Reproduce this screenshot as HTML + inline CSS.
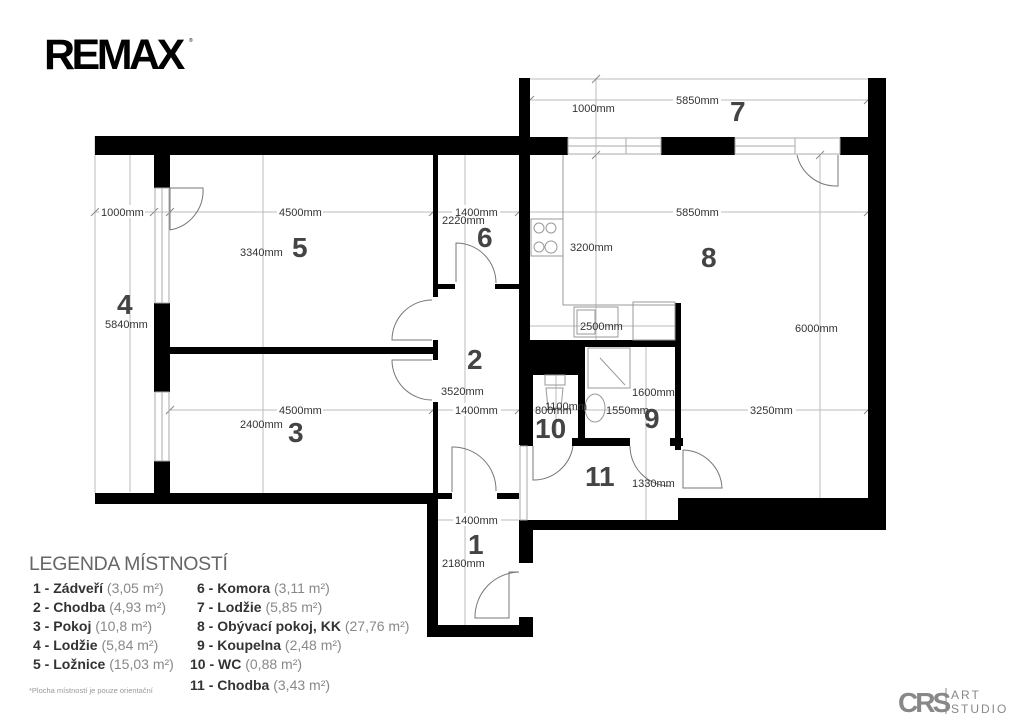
<!DOCTYPE html>
<html><head><meta charset="utf-8"><style>
html,body{margin:0;padding:0;background:#fff;}
svg{display:block;font-family:"Liberation Sans",sans-serif;}
.d{font-size:11px;fill:#333;}
.n{font-size:28px;font-weight:bold;fill:#444;}
.l{font-size:14px;font-weight:bold;fill:#333;}
.l tspan{font-weight:normal;fill:#888;}
</style></head><body>
<svg width="1024" height="723" viewBox="0 0 1024 723">
<!-- logo -->
<text x="44" y="69" font-size="43" font-weight="bold" letter-spacing="-3.5" fill="#000">REMAX</text>
<text x="189" y="42" font-size="5" fill="#000">®</text>

<!-- dimension lines -->
<g stroke="#bbb" stroke-width="1" fill="none">
<line x1="95" y1="212" x2="868" y2="212"/>
<line x1="130" y1="155" x2="130" y2="492"/>
<line x1="263" y1="155" x2="263" y2="493"/>
<line x1="465" y1="155" x2="465" y2="625"/>
<line x1="170" y1="410" x2="868" y2="410"/>
<line x1="438" y1="520" x2="519" y2="520"/>
<line x1="596" y1="78" x2="596" y2="340"/>
<line x1="530" y1="100" x2="868" y2="100"/>
<line x1="530" y1="326" x2="675" y2="326"/>
<line x1="820" y1="155" x2="820" y2="502"/>
<line x1="646" y1="345" x2="646" y2="520"/>
<line x1="556" y1="375" x2="556" y2="438"/>
<line x1="95" y1="136" x2="95" y2="493"/>
<line x1="519" y1="79" x2="886" y2="79"/>
</g>
<g stroke="#888" stroke-width="1">
<line x1="91" y1="216" x2="99" y2="208"/><line x1="150" y1="216" x2="158" y2="208"/><line x1="166" y1="216" x2="174" y2="208"/>
<line x1="429" y1="216" x2="437" y2="208"/><line x1="515" y1="216" x2="523" y2="208"/><line x1="864" y1="216" x2="872" y2="208"/>
<line x1="166" y1="414" x2="174" y2="406"/><line x1="429" y1="414" x2="437" y2="406"/><line x1="515" y1="414" x2="523" y2="406"/><line x1="864" y1="414" x2="872" y2="406"/>
<line x1="592" y1="83" x2="600" y2="75"/><line x1="592" y1="159" x2="600" y2="151"/><line x1="526" y1="104" x2="534" y2="96"/><line x1="864" y1="104" x2="872" y2="96"/>
<line x1="816" y1="159" x2="824" y2="151"/><line x1="816" y1="498" x2="824" y2="506"/>
</g>

<!-- walls -->
<g fill="#000">
<rect x="95" y="136" width="435" height="19"/>
<rect x="154" y="155" width="16" height="33"/>
<rect x="154" y="303" width="16" height="89"/>
<rect x="154" y="461" width="16" height="32"/>
<rect x="95" y="493" width="343" height="11"/>
<rect x="170" y="347" width="263" height="7"/>
<rect x="433" y="155" width="5" height="142"/>
<rect x="433" y="340" width="5" height="20"/>
<rect x="433" y="402" width="5" height="102"/>
<rect x="438" y="284" width="17" height="5"/>
<rect x="495" y="284" width="24" height="5"/>
<rect x="427" y="493" width="11" height="144"/>
<rect x="438" y="493" width="14" height="6"/>
<rect x="497" y="493" width="22" height="6"/>
<rect x="427" y="625" width="106" height="12"/>
<rect x="519" y="520" width="14" height="43"/>
<rect x="519" y="617" width="14" height="20"/>
<rect x="519" y="78" width="11" height="367"/>
<rect x="868" y="78" width="18" height="452"/>
<rect x="519" y="137" width="49" height="18"/>
<rect x="661" y="137" width="74" height="18"/>
<rect x="840" y="137" width="46" height="18"/>
<rect x="530" y="340" width="150" height="7"/>
<rect x="520" y="345" width="65" height="30"/>
<rect x="520" y="375" width="13" height="70"/>
<rect x="578" y="375" width="7" height="70"/>
<rect x="675" y="303" width="6" height="147"/>
<rect x="520" y="438" width="13" height="8"/>
<rect x="572" y="438" width="58" height="8"/>
<rect x="670" y="438" width="13" height="8"/>
<rect x="678" y="498" width="208" height="32"/>
<rect x="519" y="520" width="367" height="10"/>
</g>
<!-- windows -->
<g stroke="#aaa" stroke-width="1" fill="none">
<rect x="155" y="188" width="14" height="115"/><line x1="162" y1="188" x2="162" y2="303"/>
<rect x="155" y="392" width="14" height="69"/><line x1="162" y1="392" x2="162" y2="461"/>
<rect x="568" y="138" width="93" height="16"/><line x1="568" y1="146" x2="661" y2="146"/><line x1="626" y1="138" x2="626" y2="154"/>
<rect x="735" y="138" width="105" height="16"/><line x1="735" y1="146" x2="795" y2="146"/><line x1="795" y1="138" x2="795" y2="154"/>
<rect x="520" y="446" width="7" height="74"/>
</g>
<!-- doors -->
<g stroke="#777" stroke-width="1" fill="none">
<path d="M170 230 V188 H203 A40 40 0 0 1 170 230"/>
<path d="M432 340 H392 A40 40 0 0 1 432 300"/>
<path d="M432 360 H392 A40 40 0 0 0 432 400"/>
<path d="M456 282 V243 A40 40 0 0 1 496 283"/>
<path d="M452 492 V447 A43 43 0 0 1 496 491"/>
<path d="M519 572 H509 V618 H475 A45 45 0 0 1 519 572"/>
<path d="M838 155 V186 H836 A40 40 0 0 1 797 155"/>
<path d="M533 446 V480 A40 40 0 0 0 573 446"/>
<path d="M630 446 A40 40 0 0 0 670 486"/>
<path d="M683 450 V488 H722 A40 40 0 0 0 683 450"/>
</g>
<!-- kitchen / sanitary -->
<g stroke="#999" stroke-width="1" fill="none">
<path d="M563 155 V305 H675"/>
<rect x="531" y="219" width="32" height="37"/>
<circle cx="539" cy="228" r="5"/><circle cx="551" cy="228" r="5"/><circle cx="539" cy="247" r="5"/><circle cx="551" cy="247" r="6"/>
<rect x="574" y="307" width="44" height="30"/><rect x="577" y="310" width="18" height="24"/>
<rect x="633" y="302" width="42" height="38"/>
<rect x="588" y="348" width="42" height="40"/>
<line x1="600" y1="358" x2="625" y2="385"/>
<rect x="545" y="375" width="20" height="10"/>
<path d="M546 388 H563 L561 408 H548 Z"/>
<ellipse cx="595" cy="408" rx="10" ry="14"/>
</g>

<!-- dim labels -->
<g class="d">
<rect x="99" y="205" width="46" height="13" fill="#fff"/><text x="101" y="216">1000mm</text>
<rect x="277" y="205" width="46" height="13" fill="#fff"/><text x="279" y="216">4500mm</text>
<rect x="452" y="205" width="48" height="13" fill="#fff"/><text x="455" y="216">1400mm</text>
<text x="442" y="224">2220mm</text>
<rect x="673" y="205" width="48" height="13" fill="#fff"/><text x="676" y="216">5850mm</text>
<rect x="673" y="93" width="48" height="13" fill="#fff"/><text x="676" y="104">5850mm</text>
<text x="572" y="112">1000mm</text>
<text x="570" y="251">3200mm</text>
<text x="240" y="256">3340mm</text>
<text x="105" y="328">5840mm</text>
<rect x="277" y="403" width="46" height="13" fill="#fff"/><text x="279" y="414">4500mm</text>
<text x="240" y="428">2400mm</text>
<text x="441" y="395">3520mm</text>
<rect x="453" y="403" width="48" height="13" fill="#fff"/><text x="455" y="414">1400mm</text>
<rect x="453" y="513" width="48" height="13" fill="#fff"/><text x="455" y="524">1400mm</text>
<text x="442" y="567">2180mm</text>
<text x="535" y="414">800mm</text><text x="545" y="410">1100mm</text>
<text x="606" y="414">1550mm</text>
<text x="632" y="396">1600mm</text>
<text x="632" y="487">1330mm</text>
<rect x="748" y="403" width="48" height="13" fill="#fff"/><text x="750" y="414">3250mm</text>
<text x="580" y="330">2500mm</text>
<text x="795" y="332">6000mm</text>
</g>

<!-- room numbers -->
<g class="n">
<text x="292" y="257">5</text>
<text x="477" y="247">6</text>
<text x="730" y="121">7</text>
<text x="701" y="267">8</text>
<text x="117" y="314">4</text>
<text x="288" y="442">3</text>
<text x="467" y="369">2</text>
<text x="468" y="554">1</text>
<text x="644" y="428">9</text>
<text x="535" y="438">10</text>
<text x="585" y="486">11</text>
</g>

<!-- legend -->
<text x="29" y="570" font-size="19.5" fill="#666" letter-spacing="-0.3">LEGENDA MÍSTNOSTÍ</text>
<g class="l">
<text x="33" y="593">1 - Zádveří <tspan>(3,05 m²)</tspan></text>
<text x="33" y="612">2 - Chodba <tspan>(4,93 m²)</tspan></text>
<text x="33" y="631">3 - Pokoj <tspan>(10,8 m²)</tspan></text>
<text x="33" y="650">4 - Lodžie <tspan>(5,84 m²)</tspan></text>
<text x="33" y="669">5 - Ložnice <tspan>(15,03 m²)</tspan></text>
<text x="197" y="593">6 - Komora <tspan>(3,11 m²)</tspan></text>
<text x="197" y="612">7 - Lodžie <tspan>(5,85 m²)</tspan></text>
<text x="197" y="631">8 - Obývací pokoj, KK <tspan>(27,76 m²)</tspan></text>
<text x="197" y="650">9 - Koupelna <tspan>(2,48 m²)</tspan></text>
<text x="190" y="669">10 - WC <tspan>(0,88 m²)</tspan></text>
<text x="190" y="690">11 - Chodba <tspan>(3,43 m²)</tspan></text>
</g>
<text x="29" y="693" font-size="7.5" fill="#999">*Plocha místností je pouze orientační</text>

<!-- CRS logo -->
<text x="898" y="712" font-size="28" font-weight="bold" fill="#888" letter-spacing="-3">CRS</text>
<line x1="946" y1="688" x2="946" y2="714" stroke="#888" stroke-width="1"/>
<text x="951" y="699" font-size="12" fill="#888" letter-spacing="2">ART</text>
<text x="951" y="713" font-size="12" fill="#888" letter-spacing="2">STUDIO</text>
</svg>
</body></html>
